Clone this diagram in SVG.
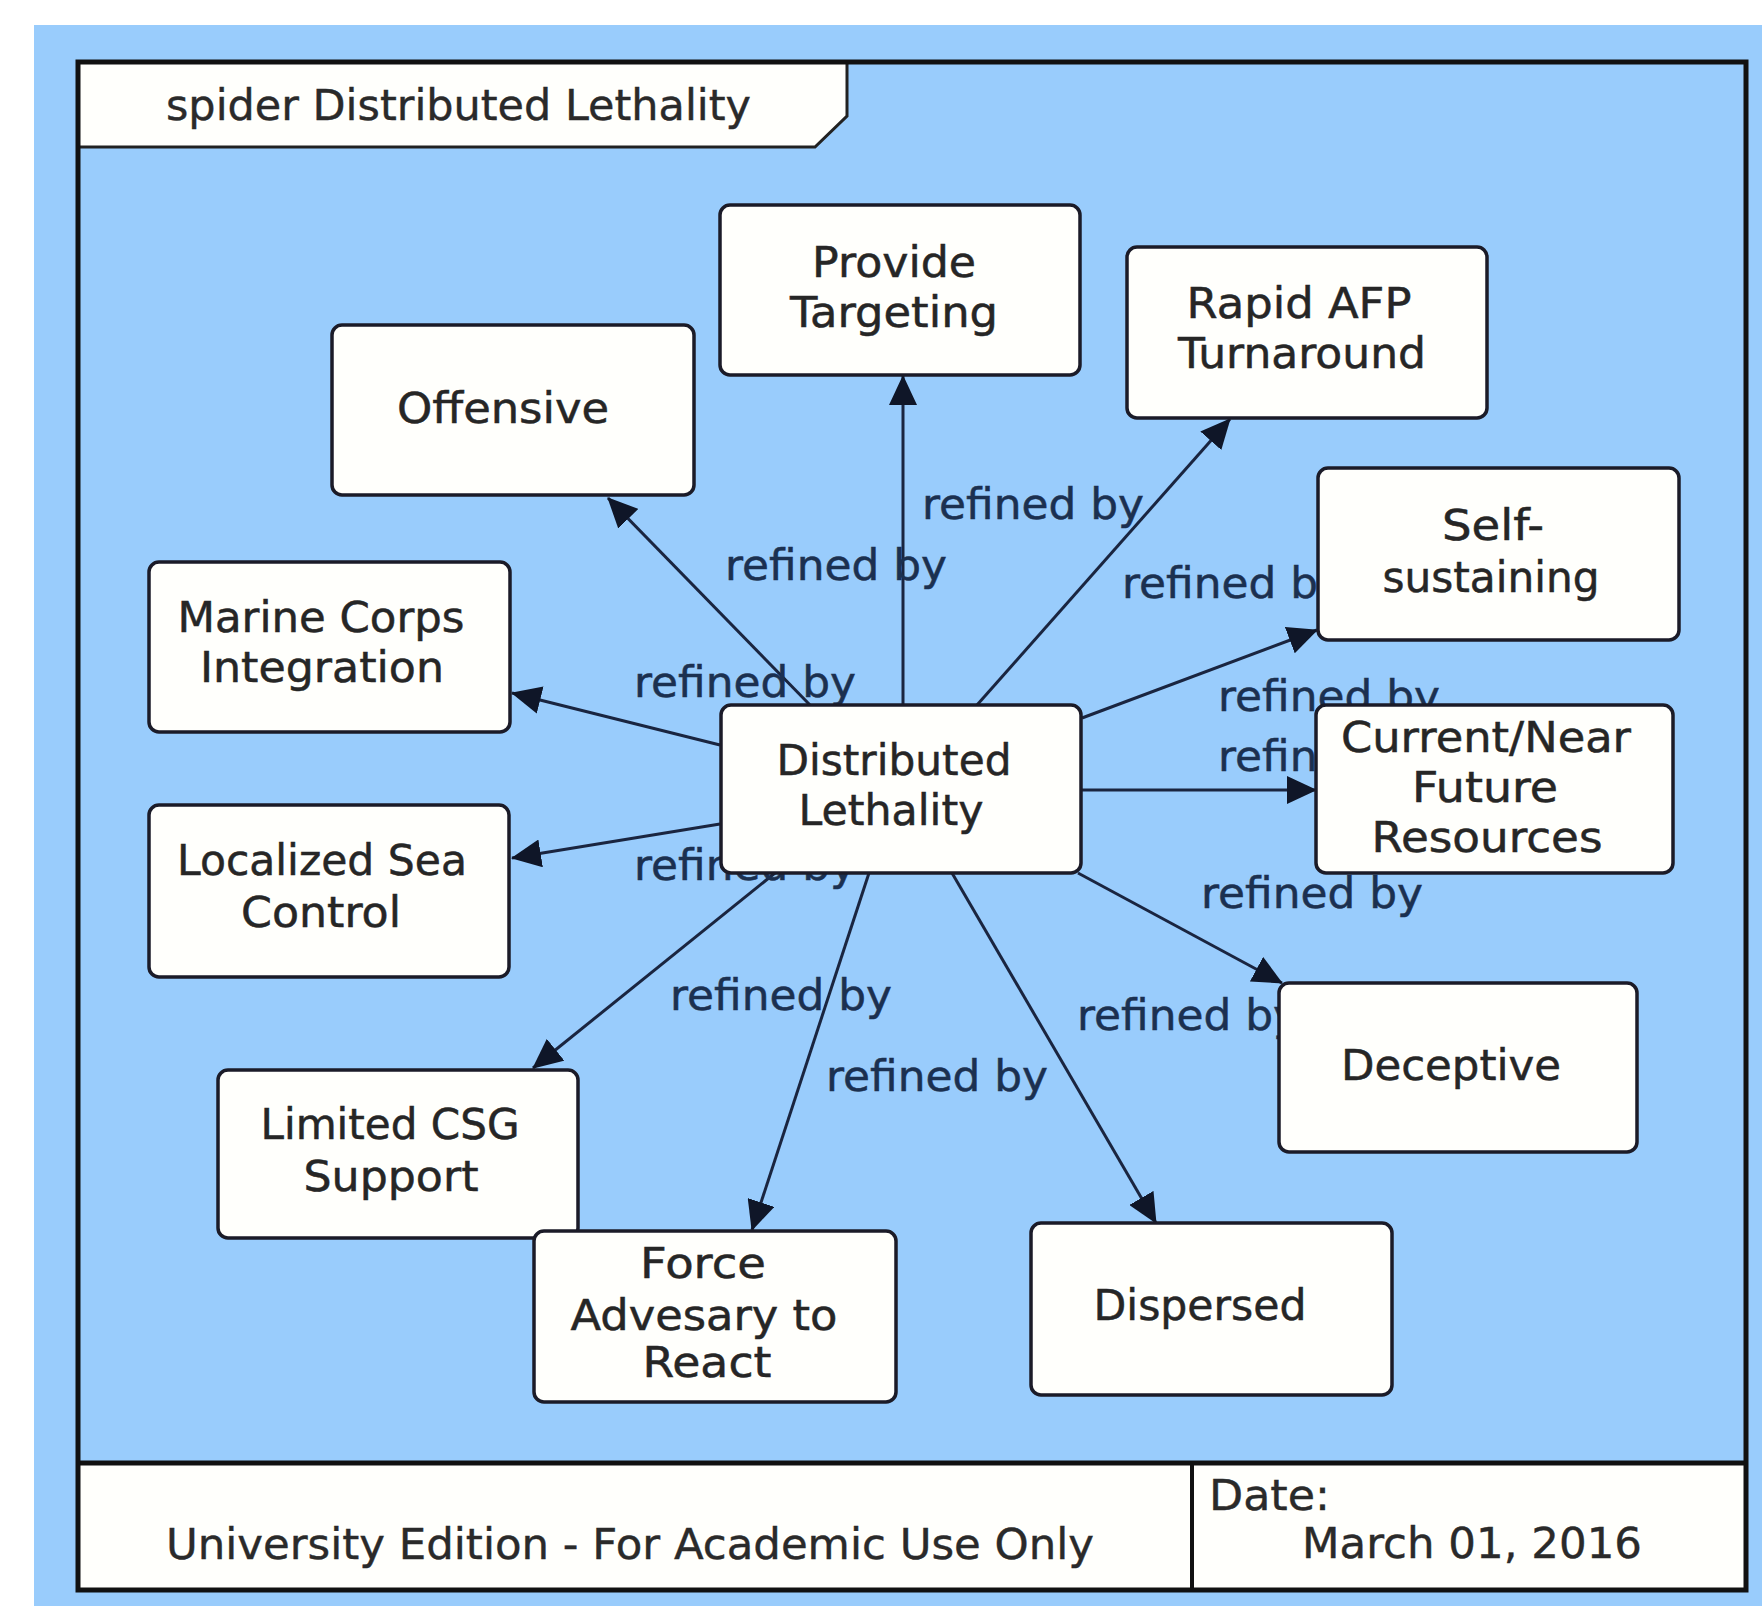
<svg xmlns="http://www.w3.org/2000/svg" width="1762" height="1606" viewBox="0 0 1762 1606">
<style>
.box{fill:#fffffc;stroke:#1b1b28;stroke-width:3.5}
.nt{font-family:"DejaVu Sans",Verdana,sans-serif;font-size:42px;fill:#262626;stroke:#262626;stroke-width:0.5;text-anchor:middle}
.lbl{font-family:"DejaVu Sans",Verdana,sans-serif;font-size:42px;fill:#1b3050;stroke:#1b3050;stroke-width:0.5}
.ft{font-family:"DejaVu Sans",Verdana,sans-serif;font-size:42px;fill:#2a2a2a;stroke:#2a2a2a;stroke-width:0.4}
.cn{stroke:#1a2540;stroke-width:3;fill:none;marker-end:url(#ah)}
</style>
<defs>
<marker id="ah" markerUnits="userSpaceOnUse" markerWidth="30" markerHeight="28" refX="29" refY="14" orient="auto">
<path d="M0,0 L30,14 L0,28 z" fill="#0f1628"/>
</marker>
</defs>
<rect x="0" y="0" width="1762" height="1606" fill="#ffffff"/>
<rect x="34" y="25" width="1728" height="1581" fill="#99ccfc"/>
<g id="frame">
<polygon points="78,62 847,62 847,116 815,147 78,147" fill="#fffffc" stroke="#222" stroke-width="3"/>
<text class="ft" x="166" y="120" textLength="585" lengthAdjust="spacingAndGlyphs">spider Distributed Lethality</text>
<rect x="78" y="1463" width="1668" height="127" fill="#fffffc"/>
<line x1="78" y1="1463" x2="1746" y2="1463" stroke="#111" stroke-width="5"/>
<line x1="1192" y1="1463" x2="1192" y2="1590" stroke="#111" stroke-width="4"/>
<rect x="78" y="62" width="1668" height="1528" fill="none" stroke="#111" stroke-width="5"/>
<text class="ft" x="166" y="1559" textLength="928" lengthAdjust="spacingAndGlyphs">University Edition - For Academic Use Only</text>
<text class="ft" x="1209" y="1510" textLength="121" lengthAdjust="spacingAndGlyphs">Date:</text>
<text class="ft" x="1302" y="1558" textLength="340" lengthAdjust="spacingAndGlyphs">March 01, 2016</text>
</g>
<g id="connectors">
<path class="cn" d="M903,705 L903,376"/>
<path class="cn" d="M977,705 L1230,419"/>
<path class="cn" d="M810,705 L608,498"/>
<path class="cn" d="M1082,718 L1317,630"/>
<path class="cn" d="M720,745 L512,693"/>
<path class="cn" d="M1082,790 L1316,790"/>
<path class="cn" d="M720,824 L512,858"/>
<path class="cn" d="M1078,873 L1282,983"/>
<path class="cn" d="M775,873 L533,1068"/>
<path class="cn" d="M869,873 L752,1230"/>
<path class="cn" d="M952,873 L1156,1223"/>
<text class="lbl" x="922" y="519" textLength="222" lengthAdjust="spacingAndGlyphs">refined by</text>
<text class="lbl" x="725" y="580" textLength="222" lengthAdjust="spacingAndGlyphs">refined by</text>
<text class="lbl" x="1122" y="598" textLength="222" lengthAdjust="spacingAndGlyphs">refined by</text>
<text class="lbl" x="634" y="697" textLength="222" lengthAdjust="spacingAndGlyphs">refined by</text>
<text class="lbl" x="1218" y="711" textLength="222" lengthAdjust="spacingAndGlyphs">refined by</text>
<text class="lbl" x="1218" y="771" textLength="222" lengthAdjust="spacingAndGlyphs">refined by</text>
<text class="lbl" x="1201" y="908" textLength="222" lengthAdjust="spacingAndGlyphs">refined by</text>
<text class="lbl" x="1077" y="1030" textLength="222" lengthAdjust="spacingAndGlyphs">refined by</text>
<text class="lbl" x="670" y="1010" textLength="222" lengthAdjust="spacingAndGlyphs">refined by</text>
<text class="lbl" x="826" y="1091" textLength="222" lengthAdjust="spacingAndGlyphs">refined by</text>
<text class="lbl" x="634" y="880" textLength="222" lengthAdjust="spacingAndGlyphs">refined by</text>
</g>
<g id="node-provide-targeting">
<rect class="box" x="720" y="205" width="360" height="170" rx="10"/>
<text class="nt" x="894" y="277" textLength="164" lengthAdjust="spacingAndGlyphs">Provide</text>
<text class="nt" x="894" y="327" textLength="208" lengthAdjust="spacingAndGlyphs">Targeting</text>
</g>
<g id="node-rapid-afp">
<rect class="box" x="1127" y="247" width="360" height="171" rx="10"/>
<text class="nt" x="1299" y="318" textLength="225" lengthAdjust="spacingAndGlyphs">Rapid AFP</text>
<text class="nt" x="1302" y="368" textLength="248" lengthAdjust="spacingAndGlyphs">Turnaround</text>
</g>
<g id="node-offensive">
<rect class="box" x="332" y="325" width="362" height="170" rx="10"/>
<text class="nt" x="503" y="423" textLength="212" lengthAdjust="spacingAndGlyphs">Offensive</text>
</g>
<g id="node-self-sustaining">
<rect class="box" x="1318" y="468" width="361" height="172" rx="10"/>
<text class="nt" x="1493" y="540" textLength="102" lengthAdjust="spacingAndGlyphs">Self-</text>
<text class="nt" x="1491" y="592" textLength="217" lengthAdjust="spacingAndGlyphs">sustaining</text>
</g>
<g id="node-marine-corps">
<rect class="box" x="149" y="562" width="361" height="170" rx="10"/>
<text class="nt" x="321" y="632" textLength="287" lengthAdjust="spacingAndGlyphs">Marine Corps</text>
<text class="nt" x="322" y="682" textLength="244" lengthAdjust="spacingAndGlyphs">Integration</text>
</g>
<g id="node-localized-sea-control">
<rect class="box" x="149" y="805" width="360" height="172" rx="10"/>
<text class="nt" x="322" y="875" textLength="290" lengthAdjust="spacingAndGlyphs">Localized Sea</text>
<text class="nt" x="321" y="927" textLength="160" lengthAdjust="spacingAndGlyphs">Control</text>
</g>
<g id="node-distributed-lethality">
<rect class="box" x="721" y="705" width="360" height="168" rx="10"/>
<text class="nt" x="894" y="775" textLength="235" lengthAdjust="spacingAndGlyphs">Distributed</text>
<text class="nt" x="891" y="825" textLength="185" lengthAdjust="spacingAndGlyphs">Lethality</text>
</g>
<g id="node-current-near">
<rect class="box" x="1316" y="705" width="357" height="168" rx="10"/>
<text class="nt" x="1486" y="752" textLength="290" lengthAdjust="spacingAndGlyphs">Current/Near</text>
<text class="nt" x="1485" y="802" textLength="146" lengthAdjust="spacingAndGlyphs">Future</text>
<text class="nt" x="1487" y="852" textLength="231" lengthAdjust="spacingAndGlyphs">Resources</text>
</g>
<g id="node-deceptive">
<rect class="box" x="1279" y="983" width="358" height="169" rx="10"/>
<text class="nt" x="1451" y="1080" textLength="220" lengthAdjust="spacingAndGlyphs">Deceptive</text>
</g>
<g id="node-limited-csg">
<rect class="box" x="218" y="1070" width="360" height="168" rx="10"/>
<text class="nt" x="390" y="1139" textLength="259" lengthAdjust="spacingAndGlyphs">Limited CSG</text>
<text class="nt" x="391" y="1191" textLength="175" lengthAdjust="spacingAndGlyphs">Support</text>
</g>
<g id="node-force-adversary">
<rect class="box" x="534" y="1231" width="362" height="171" rx="10"/>
<text class="nt" x="703" y="1278" textLength="126" lengthAdjust="spacingAndGlyphs">Force</text>
<text class="nt" x="704" y="1330" textLength="267" lengthAdjust="spacingAndGlyphs">Advesary to</text>
<text class="nt" x="707" y="1377" textLength="129" lengthAdjust="spacingAndGlyphs">React</text>
</g>
<g id="node-dispersed">
<rect class="box" x="1031" y="1223" width="361" height="172" rx="10"/>
<text class="nt" x="1200" y="1320" textLength="213" lengthAdjust="spacingAndGlyphs">Dispersed</text>
</g>
</svg>
